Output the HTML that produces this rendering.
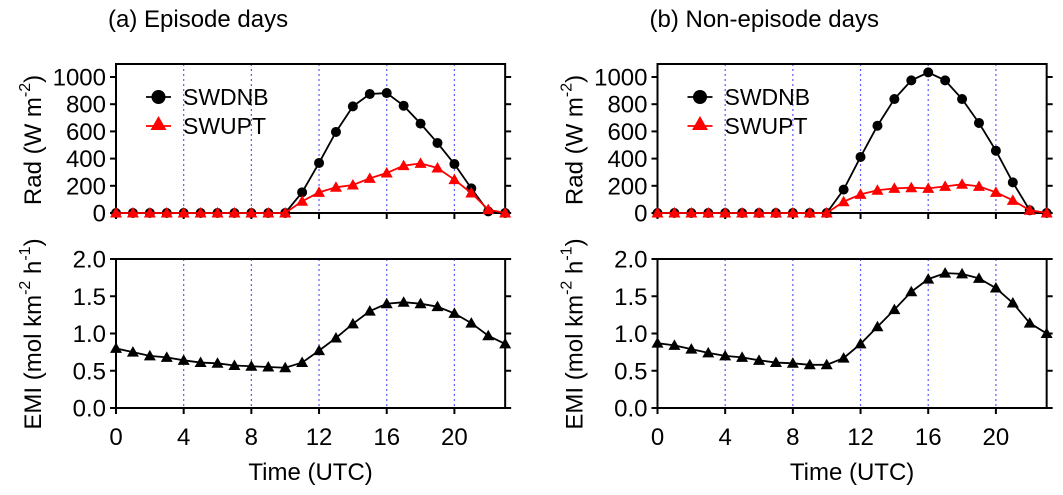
<!DOCTYPE html>
<html><head><meta charset="utf-8"><style>
body{margin:0;background:#fff;}
svg{display:block;font-family:"Liberation Sans",Arial,sans-serif;}
</style></head><body>
<svg id="chart" width="1063" height="495"></svg>
<script>
const hours=[0,1,2,3,4,5,6,7,8,9,10,11,12,13,14,15,16,17,18,19,20,21,22,23];
const swdnbA=[0,0,0,0,0,0,0,0,0,0,0,152,368,596,784,875,882,789,657,515,360,181,12,0];
const swuptA=[0,0,0,0,0,0,0,0,0,0,0,86,152,189,206,255,294,348,365,331,245,147,25,0];
const emiA=[0.80,0.75,0.70,0.68,0.64,0.61,0.60,0.57,0.56,0.55,0.54,0.61,0.77,0.94,1.13,1.30,1.40,1.42,1.40,1.36,1.27,1.14,0.97,0.86];
const swdnbB=[0,0,0,0,0,0,0,0,0,0,0,172,412,642,838,975,1034,975,838,662,458,225,20,0];
const swuptB=[0,0,0,0,0,0,0,0,0,0,0,83,137,167,181,186,181,196,211,196,152,93,20,0];
const emiB=[0.87,0.84,0.79,0.74,0.70,0.68,0.64,0.61,0.60,0.58,0.58,0.67,0.86,1.09,1.32,1.56,1.73,1.81,1.80,1.74,1.61,1.41,1.14,1.00];
const xTicks=[0,4,8,12,16,20];
const radTicks=[0,200,400,600,800,1000];
const emiTicks=[0,0.5,1.0,1.5,2.0];
const titles=["(a) Episode days","(b) Non-episode days"];

const NS="http://www.w3.org/2000/svg";
const svg=document.getElementById('chart');
function mk(tag,attrs,parent,text){const e=document.createElementNS(NS,tag);for(const k in attrs)e.setAttribute(k,attrs[k]);if(text!==undefined)e.textContent=text;(parent||svg).appendChild(e);return e;}
const FS=24;
function panel(left,swd,swu,emi,title,id){
  const x0=left, dx=16.92;
  const xs=h=>x0+h*dx;
  const right=xs(23);
  const rTop=64,rBot=213,rMax=1000,r0=213,r1000=77;
  const yr=v=>r0+(r1000-r0)*v/rMax;
  const eTop=259,eBot=408;
  const ye=v=>eBot+(eTop-eBot)*v/2;
  const g=mk('g',{});
  
  
  const t=mk('text',{x:left-8,y:27,'font-size':FS},g,title);
  
  xTicks.forEach(h=>{ if(h===0)return;
    [[rTop,rBot],[eTop,eBot]].forEach(([a,b])=>{
      const l=mk('line',{x1:xs(h),x2:xs(h),y1:a,y2:b,stroke:'#5a5aff','stroke-width':1.2,'stroke-dasharray':'2,3'},g);
      
    });
  });
  [[rTop,rBot,'rad'],[eTop,eBot,'emi']].forEach(([a,b,n])=>{
    const r=mk('rect',{x:x0,y:a,width:right-x0,height:b-a,fill:'none',stroke:'#000','stroke-width':2},g);
    
    xTicks.forEach(h=>{mk('line',{x1:xs(h),x2:xs(h),y1:b,y2:b+6,stroke:'#000','stroke-width':2},g);});
  });
  radTicks.forEach(v=>{
    mk('line',{x1:x0-6,x2:x0,y1:yr(v),y2:yr(v),stroke:'#000','stroke-width':2},g);
    mk('line',{x1:right,x2:right+6,y1:yr(v),y2:yr(v),stroke:'#000','stroke-width':2},g);
    const tl=mk('text',{x:x0-10,y:yr(v)+8.5,'font-size':FS,'text-anchor':'end'},g,String(v));
    
  });
  emiTicks.forEach(v=>{
    mk('line',{x1:x0-6,x2:x0,y1:ye(v),y2:ye(v),stroke:'#000','stroke-width':2},g);
    mk('line',{x1:right,x2:right+6,y1:ye(v),y2:ye(v),stroke:'#000','stroke-width':2},g);
    const tl=mk('text',{x:x0-10,y:ye(v)+8.5,'font-size':FS,'text-anchor':'end'},g,v.toFixed(1));
    
  });
  xTicks.forEach(h=>{
    const tl=mk('text',{x:xs(h),y:445,'font-size':FS,'text-anchor':'middle'},g,String(h));
    
  });
  const xt=mk('text',{x:(x0+right)/2,y:480,'font-size':FS,'text-anchor':'middle'},g,'Time (UTC)');
  
  const ry=mk('text',{transform:`translate(${x0-75},140) rotate(-90)`,'font-size':FS,'text-anchor':'middle'},g);
  
  ry.innerHTML='Rad (W m<tspan dy="-11" font-size="16">-2</tspan><tspan dy="11">)</tspan>';
  const ey=mk('text',{transform:`translate(${x0-75},334) rotate(-90)`,'font-size':FS,'text-anchor':'middle'},g);
  
  ey.innerHTML='EMI (mol km<tspan dy="-11" font-size="16">-2</tspan><tspan dy="11"> h</tspan><tspan dy="-11" font-size="16">-1</tspan><tspan dy="11">)</tspan>';
  function tri(cx,cy,s){return `${cx},${cy-s} ${cx-s},${cy+s*0.75} ${cx+s},${cy+s*0.75}`;}
  const pd=mk('polyline',{points:hours.map((h,i)=>xs(h)+','+yr(swd[i])).join(' '),fill:'none',stroke:'#000','stroke-width':1.8},g);
  
  hours.forEach((h,i)=>{const c=mk('circle',{cx:xs(h),cy:yr(swd[i]),r:5,fill:'#000'},g);
    });
  const pu=mk('polyline',{points:hours.map((h,i)=>xs(h)+','+yr(swu[i])).join(' '),fill:'none',stroke:'#f00','stroke-width':1.8},g);
  
  hours.forEach((h,i)=>{const p=mk('polygon',{points:tri(xs(h),yr(swu[i]),6),fill:'#f00'},g);
    });
  const pe=mk('polyline',{points:hours.map((h,i)=>xs(h)+','+ye(emi[i])).join(' '),fill:'none',stroke:'#000','stroke-width':1.8},g);
  
  hours.forEach((h,i)=>{const p=mk('polygon',{points:tri(xs(h),ye(emi[i]),6),fill:'#000'},g);
    });
  const lx=x0+30;
  const lg=mk('g',{},g);
  
  mk('line',{x1:lx,x2:lx+25,y1:97,y2:97,stroke:'#000','stroke-width':1.8},lg);
  mk('circle',{cx:lx+12.5,cy:97,r:7,fill:'#000'},lg);
  const l1=mk('text',{x:lx+37,y:105,'font-size':23},lg,'SWDNB');
  
  mk('line',{x1:lx,x2:lx+25,y1:126,y2:126,stroke:'#f00','stroke-width':1.8},lg);
  mk('polygon',{points:tri(lx+12.5,124,8),fill:'#f00'},lg);
  const l2=mk('text',{x:lx+37,y:134,'font-size':23},lg,'SWUPT');
  
}
panel(116,swdnbA,swuptA,emiA,titles[0],'episode');
panel(657.5,swdnbB,swuptB,emiB,titles[1],'non-episode');
</script>
</body></html>
